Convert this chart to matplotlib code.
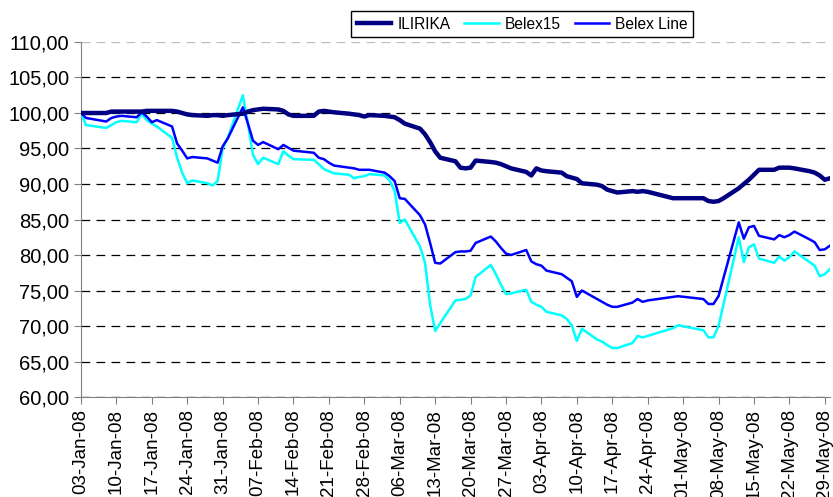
import datetime as dt
import matplotlib
matplotlib.use('Agg')
import matplotlib.pyplot as plt
import matplotlib.dates as mdates
from matplotlib.ticker import FuncFormatter

plt.rcParams['font.family'] = ['Liberation Sans', 'DejaVu Sans']

# trading days per month (2008)
jan_days = [3, 4, 8, 9, 10, 11, 14, 15, 16, 17, 18, 21, 22, 23, 24, 25, 28, 29, 30, 31]
feb_days = [1, 4, 5, 6, 7, 8, 11, 12, 13, 14, 18, 19, 20, 21, 22, 25, 26, 27, 28, 29]
mar_days = [3, 4, 5, 6, 7, 10, 11, 12, 13, 14, 17, 18, 19, 20, 21, 24, 25, 26, 27, 28, 31]
apr_days = [1, 2, 3, 4, 7, 8, 9, 10, 11, 14, 15, 16, 17, 18, 21, 22, 23, 24, 29, 30]
may_days = [5, 6, 7, 8, 9, 12, 13, 14, 15, 16, 19, 20, 21, 22, 23, 26, 27, 28, 29, 30]

dates = []
for month, days in [(1, jan_days), (2, feb_days), (3, mar_days), (4, apr_days), (5, may_days)]:
    for d in days:
        dates.append(dt.date(2008, month, d))

ilirika = [
    100.0, 100.0, 100.0, 100.2, 100.2, 100.2, 100.2, 100.2, 100.3, 100.3,
    100.3, 100.3, 100.2, 100.0, 99.8, 99.7, 99.6, 99.7, 99.7, 99.6,
    99.7, 99.9, 100.2, 100.4, 100.5, 100.6, 100.5, 100.3, 99.8, 99.6,
    99.6, 100.2, 100.3, 100.2, 100.1, 99.9, 99.8, 99.7, 99.5, 99.7,
    99.6, 99.5, 99.4, 99.0, 98.5, 97.8, 97.0, 95.9, 94.6, 93.7,
    93.2, 92.3, 92.2, 92.3, 93.3, 93.1, 93.0, 92.8, 92.5, 92.2, 91.7,
    91.2, 92.2, 91.9, 91.8, 91.6, 91.1, 90.9, 90.7, 90.1, 89.9,
    89.7, 89.2, 89.0, 88.8, 89.0, 88.9, 89.0, 88.9, 88.0, 88.0,
    88.0, 87.6, 87.5, 87.6, 88.0, 89.4, 90.0, 90.6, 91.3, 92.0,
    92.0, 92.3, 92.3, 92.3, 92.2, 91.8, 91.6, 91.2, 90.6, 90.8,
]
belex15 = [
    100.0, 98.3, 97.9, 98.3, 98.7, 98.9, 98.7, 99.9, 99.0, 98.5,
    98.1, 96.5, 93.7, 91.6, 90.1, 90.5, 90.1, 89.8, 90.4, 95.0,
    96.5, 102.5, 98.5, 94.1, 92.8, 93.7, 92.8, 94.6, 94.0, 93.5,
    93.4, 92.8, 92.1, 91.8, 91.5, 91.3, 90.8, 91.0, 91.1, 91.4,
    91.2, 90.5, 89.0, 84.5, 85.0, 81.2, 78.9, 73.0, 69.3, 70.4,
    73.6, 73.7, 73.8, 74.3, 76.9, 78.6, 77.3, 75.8, 74.5, 74.6, 75.1,
    73.4, 73.0, 72.7, 72.0, 71.5, 71.0, 70.1, 67.9, 69.6, 68.1,
    67.8, 67.3, 66.9, 66.9, 67.6, 68.6, 68.4, 68.6, 69.7, 70.1,
    69.4, 68.4, 68.4, 70.0, 73.1, 82.5, 79.0, 81.1, 81.5, 79.5,
    78.9, 79.8, 79.2, 79.7, 80.5, 79.0, 78.5, 77.0, 77.3, 78.0,
]
belex_line = [
    100.0, 99.3, 98.8, 99.3, 99.5, 99.6, 99.4, 100.1, 99.5, 98.7,
    99.0, 98.1, 95.7, 94.7, 93.6, 93.8, 93.6, 93.3, 93.0, 95.3,
    96.4, 100.8, 98.5, 96.1, 95.5, 95.9, 94.9, 95.5, 95.1, 94.7,
    94.4, 93.7, 93.5, 93.0, 92.6, 92.3, 92.2, 92.0, 92.0, 92.0,
    91.6, 91.1, 90.4, 88.0, 87.9, 85.6, 84.3, 81.7, 78.9, 78.8,
    80.4, 80.5, 80.5, 80.6, 81.7, 82.6, 81.9, 81.0, 80.2, 80.0, 80.7,
    79.1, 78.7, 78.5, 77.8, 77.3, 76.8, 76.3, 74.1, 75.0, 73.8,
    73.4, 73.0, 72.7, 72.7, 73.3, 73.8, 73.4, 73.6, 74.1, 74.2,
    73.8, 73.1, 73.1, 74.2, 76.8, 84.6, 82.3, 83.9, 84.1, 82.7,
    82.2, 82.8, 82.5, 82.8, 83.3, 82.2, 81.8, 80.7, 80.8, 81.3,
]

fig = plt.figure(figsize=(8.33, 4.97), dpi=100)
ax = fig.add_axes([0.0972, 0.2012, 0.899, 0.7143])

ax.plot(dates, ilirika, color='#000080', lw=3.2, label='ILIRIKA', zorder=4)
ax.plot(dates, belex15, color='#00FFFF', lw=1.8, label='Belex15', zorder=3)
ax.plot(dates, belex_line, color='#0000FF', lw=1.8, label='Belex Line', zorder=3)

ax.set_ylim(60, 110)
ax.set_yticks(range(60, 111, 5))
ax.yaxis.set_major_formatter(FuncFormatter(lambda v, p: f'{v:.2f}'.replace('.', ',')))
ax.set_xlim(dt.date(2008, 1, 3), dt.date(2008, 5, 30))
ax.set_xticks([dt.date(2008, 1, 3) + dt.timedelta(days=7 * i) for i in range(22)])
ax.xaxis.set_major_formatter(mdates.DateFormatter('%d-%b-%y'))
plt.setp(ax.get_xticklabels(), rotation=90)

ax.grid(axis='y', color='black', linestyle=(0, (7, 5)), lw=0.9)
ax.get_ygridlines()[-1].set_color('#bbbbbb')
for s in ['top', 'right']:
    ax.spines[s].set_visible(False)
for s in ['left', 'bottom']:
    ax.spines[s].set_color('#808080')
ax.tick_params(colors='#808080', labelcolor='black', length=5, direction='out')
ax.tick_params(axis='y', labelsize=14.5)
ax.tick_params(axis='x', labelsize=13.5)

fig.legend(loc='center', bbox_to_anchor=(0.627, 0.951), ncol=3, fancybox=False,
           edgecolor='black', framealpha=1, fontsize=11.2, handlelength=2.2,
           columnspacing=0.9, borderpad=0.35, handletextpad=0.4)

plt.savefig('out.png', dpi=100)
